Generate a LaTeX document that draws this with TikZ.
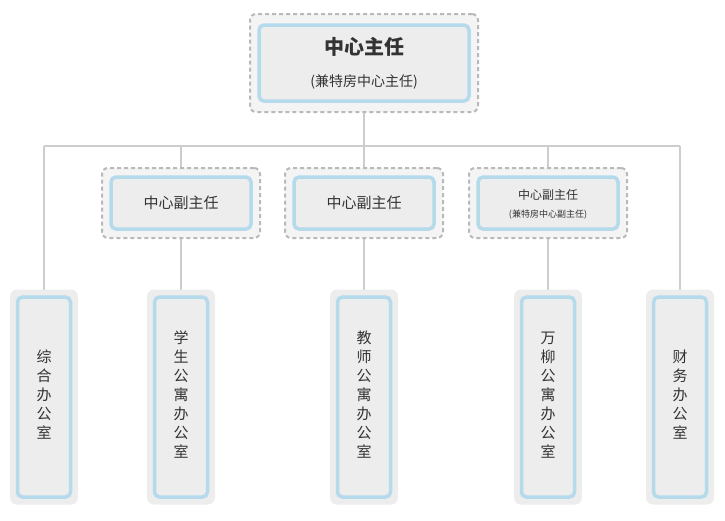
\documentclass[tikz,border=0pt]{standalone}
\usepackage{fontspec}
\setmainfont{Noto Sans CJK SC}
\usetikzlibrary{positioning}
\definecolor{boxblue}{RGB}{180,218,236}
\definecolor{boxgray}{RGB}{237,237,237}
\definecolor{linegray}{RGB}{205,205,205}
\definecolor{textgray}{RGB}{51,51,51}
\tikzset{
  outer/.style={draw=gray!55, dashed, dash pattern=on 4pt off 3pt, line width=2pt, fill=boxgray!60, rounded corners=6pt},
  inner/.style={draw=boxblue, line width=3.5pt, fill=boxgray, rounded corners=5pt, text=textgray, align=center},
  office/.style={fill=boxgray, rounded corners=7pt, minimum width=68pt, minimum height=215pt},
  link/.style={draw=linegray, line width=1.2pt}
}
\newcommand{\vtext}[1]{\begin{tabular}{@{}c@{}}#1\end{tabular}}
\begin{document}
\begin{tikzpicture}[x=1pt,y=-1pt]
  \useasboundingbox (0,0) rectangle (725,520);
  % connectors (drawn first)
  \coordinate (hl) at (44,146);
  \coordinate (hr) at (680,146);
  \draw[link] (hl) -- (hr);
  \draw[link] (364,112) -- (364,290);
  \foreach \x in {44,181,548,680} \draw[link] (\x,146) -- (\x,290);

  % director
  \node[outer, minimum width=228pt, minimum height=98pt] (dirbg) at (364,63) {};
  \node[inner, minimum width=210pt, minimum height=76pt] (dir) at (364,63) {};
  \node[text=textgray, font=\fontsize{20}{22}\selectfont\bfseries] at (364,47) {中心主任};
  \node[text=textgray, font=\fontsize{14}{16}\selectfont] at (364,82) {(兼特房中心主任)};

  % deputies
  \foreach \x/\n in {181/depa,364/depb,548/depc}{
    \node[outer, minimum width=158pt, minimum height=70pt] (\n bg) at (\x,203) {};
    \node[inner, minimum width=140pt, minimum height=52pt] (\n) at (\x,203) {};
  }
  \node[text=textgray, font=\fontsize{15}{17}\selectfont] at (depa) {中心副主任};
  \node[text=textgray, font=\fontsize{15}{17}\selectfont] at (depb) {中心副主任};
  \node[text=textgray, font=\fontsize{12}{14}\selectfont] at (548,195) {中心副主任};
  \node[text=textgray, font=\fontsize{9}{11}\selectfont] at (548,215) {(兼特房中心副主任)};

  % offices
  \foreach \x/\n/\t in {44/offa/{综\\合\\办\\公\\室},
                        181/offb/{学\\生\\公\\寓\\办\\公\\室},
                        364/offc/{教\\师\\公\\寓\\办\\公\\室},
                        548/offd/{万\\柳\\公\\寓\\办\\公\\室},
                        680/offe/{财\\务\\办\\公\\室}}{
    \node[office] (\n bg) at (\x,397) {};
    \node[inner, minimum width=53pt, minimum height=200pt, font=\fontsize{15}{19}\selectfont] (\n) at (\x,397) {\vtext{\t}};
  }
\end{tikzpicture}
\end{document}
